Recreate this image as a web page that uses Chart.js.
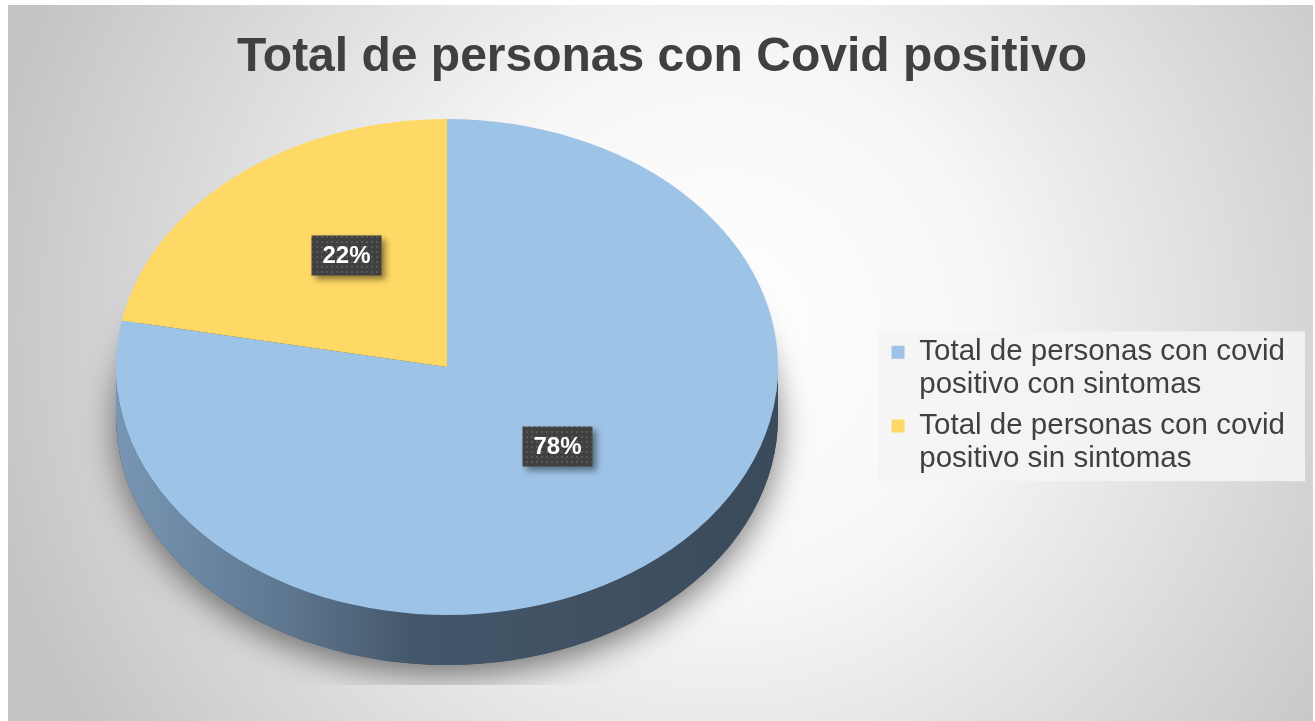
<!DOCTYPE html>
<html>
<head>
<meta charset="utf-8">
<script src="https://cdn.jsdelivr.net/npm/chart.js@4.4.1/dist/chart.umd.min.js"></script>
<style>
  html, body { margin: 0; padding: 0; background: #fff; }
  #wrap { width: 1315px; height: 721px; }
</style>
</head>
<body>
<div id="wrap"><canvas id="myChart" width="1315" height="721"></canvas></div>
<script>
// data
const categories = [
  ['Total de personas con covid', 'positivo con sintomas'],
  ['Total de personas con covid', 'positivo sin sintomas']
];
const percentages = [78, 22];

const sliceColors = ['#9dc3e6', '#ffd966'];
const wallColors = [
  ['#7896b4', '#5f7891', '#44576a', '#3a4a5a'],
  ['#d9b655', '#b39540', '#8a7230', '#7a652a']
];

// how the flat pie is tilted into the 3d look
const view = { cx: 447, cy: 367, rx: 331, ry: 248, depth: 50, labelLift: 16, labelShift: 5, shadowFloor: 685 };

Chart.defaults.font.family = "'Liberation Sans', Arial, sans-serif";

function libCircle(chart) {
  const arc = chart.getDatasetMeta(0).data[0];
  return { ox: arc.x, oy: arc.y, r: arc.outerRadius };
}

function frontParts(start, end) {
  const parts = [];
  for (let k = -1; k <= 1; k++) {
    const lo = Math.max(start, 2 * Math.PI * k);
    const hi = Math.min(end, Math.PI + 2 * Math.PI * k);
    if (hi > lo) parts.push([lo - 2 * Math.PI * k, hi - 2 * Math.PI * k]);
  }
  return parts;
}

let dotPattern = null;
function getDots(ctx) {
  if (dotPattern) return dotPattern;
  const c = document.createElement('canvas');
  c.width = 5; c.height = 5;
  const p = c.getContext('2d');
  p.fillStyle = '#404040';
  p.fillRect(0, 0, 5, 5);
  p.fillStyle = '#575757';
  p.fillRect(1, 1, 2, 2);
  dotPattern = ctx.createPattern(c, 'repeat');
  return dotPattern;
}

const panelPlugin = {
  id: 'panel',
  beforeDraw(chart) {
    const ctx = chart.ctx;
    ctx.save();
    ctx.fillStyle = '#ffffff';
    ctx.fillRect(0, 0, chart.width, chart.height);
    const g = ctx.createRadialGradient(720, 330, 0, 720, 330, 760);
    g.addColorStop(0, '#ffffff');
    g.addColorStop(0.35, '#f7f7f7');
    g.addColorStop(1, '#c3c3c3');
    ctx.fillStyle = g;
    ctx.fillRect(8, 5, chart.width - 10, chart.height - 5);

    const boxes = chart.legend.legendHitBoxes;
    if (boxes && boxes.length) {
      const first = boxes[0], last = boxes[boxes.length - 1];
      const w = Math.max(...boxes.map(b => b.width));
      ctx.fillStyle = 'rgba(244,244,244,0.9)';
      ctx.fillRect(first.left - 13, first.top - 6, w + 33, last.top + last.height - first.top + 11);
    }
    ctx.restore();
  }
};

const tiltPlugin = {
  id: 'tilt',
  beforeDatasetsDraw(chart) {
    const ctx = chart.ctx;
    const c = libCircle(chart);
    const { cx, cy, rx, ry, depth } = view;

    // soft shadow under the pie
    ctx.save();
    ctx.beginPath();
    ctx.rect(0, 0, chart.width, view.shadowFloor);
    ctx.clip();
    ctx.shadowColor = 'rgba(0,0,0,0.5)';
    ctx.shadowBlur = 32;
    ctx.shadowOffsetY = 10;
    ctx.fillStyle = '#3a4a5a';
    ctx.beginPath();
    ctx.ellipse(cx, cy + depth, rx, ry, 0, 0, Math.PI * 2);
    ctx.fill();
    ctx.restore();

    // side walls of the slices that face us
    chart.getDatasetMeta(0).data.forEach((arc, i) => {
      frontParts(arc.startAngle, arc.endAngle).forEach(([a0, a1]) => {
        const g = ctx.createLinearGradient(cx - rx, 0, cx + rx, 0);
        const stops = wallColors[i];
        g.addColorStop(0, stops[0]);
        g.addColorStop(0.25, stops[1]);
        g.addColorStop(0.45, stops[2]);
        g.addColorStop(1, stops[3]);
        ctx.save();
        ctx.fillStyle = g;
        ctx.beginPath();
        ctx.ellipse(cx, cy, rx, ry, 0, a0, a1);
        ctx.ellipse(cx, cy + depth, rx, ry, 0, a1, a0, true);
        ctx.closePath();
        ctx.fill();
        ctx.restore();
      });
    });

    // squash the library's circle into the top face
    ctx.save();
    ctx.translate(cx, cy);
    ctx.scale(rx / c.r, ry / c.r);
    ctx.translate(-c.ox, -c.oy);
  },
  afterDatasetsDraw(chart) {
    const ctx = chart.ctx;
    ctx.restore();

    const c = libCircle(chart);
    const { cx, cy, rx, ry, labelLift, labelShift } = view;
    const total = percentages.reduce((a, b) => a + b, 0);
    chart.getDatasetMeta(0).data.forEach((arc, i) => {
      const pos = arc.tooltipPosition();
      const x = cx + (pos.x - c.ox) * rx / c.r + labelShift;
      const y = cy + (pos.y - c.oy) * ry / c.r - labelLift;
      const text = Math.round(percentages[i] / total * 100) + '%';
      ctx.save();
      ctx.font = "bold 24px 'Liberation Sans', Arial, sans-serif";
      const w = ctx.measureText(text).width + 22;
      const h = 40;
      ctx.shadowColor = 'rgba(0,0,0,0.45)';
      ctx.shadowBlur = 6;
      ctx.shadowOffsetX = 4;
      ctx.shadowOffsetY = 4;
      ctx.fillStyle = getDots(ctx);
      ctx.fillRect(x - w / 2, y - h / 2, w, h);
      ctx.shadowColor = 'transparent';
      ctx.fillStyle = '#ffffff';
      ctx.textAlign = 'center';
      ctx.textBaseline = 'middle';
      ctx.fillText(text, x, y + 1);
      ctx.restore();
    });
  }
};

new Chart(document.getElementById('myChart'), {
  type: 'pie',
  data: {
    labels: categories,
    datasets: [{
      data: percentages,
      backgroundColor: sliceColors,
      borderWidth: 0,
      clip: false
    }]
  },
  options: {
    responsive: false,
    animation: false,
    events: [],
    layout: { padding: { top: 5, right: 20, bottom: 0, left: 29 } },
    plugins: {
      title: {
        display: true,
        text: 'Total de personas con Covid positivo',
        color: '#404040',
        font: { size: 48, weight: 'bold' },
        padding: { top: 24, bottom: 6 }
      },
      legend: {
        position: 'right',
        fullSize: false,
        labels: {
          color: '#404040',
          font: { size: 29.5, lineHeight: 1.1 },
          boxWidth: 13,
          boxHeight: 13,
          padding: 9
        }
      },
      tooltip: { enabled: false }
    }
  },
  plugins: [panelPlugin, tiltPlugin]
});
</script>
</body>
</html>
